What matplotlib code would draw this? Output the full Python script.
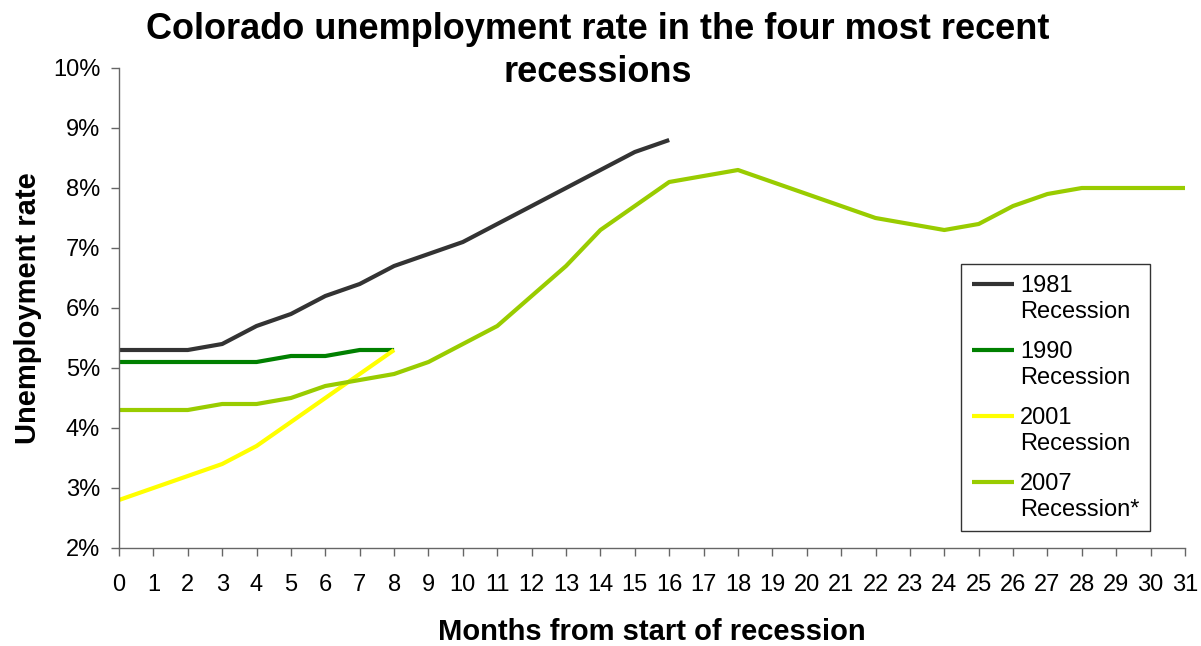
import matplotlib
matplotlib.use("Agg")
import matplotlib.pyplot as plt
from matplotlib.legend_handler import HandlerLine2D
from matplotlib.ticker import FuncFormatter

months = list(range(32))

rec_1981 = [5.3, 5.3, 5.3, 5.4, 5.7, 5.9, 6.2, 6.4, 6.7, 6.9, 7.1, 7.4, 7.7,
            8.0, 8.3, 8.6, 8.8]
rec_1990 = [5.1, 5.1, 5.1, 5.1, 5.1, 5.2, 5.2, 5.3, 5.3]
rec_2001 = [2.8, 3.0, 3.2, 3.4, 3.7, 4.1, 4.5, 4.9, 5.3]
rec_2007 = [4.3, 4.3, 4.3, 4.4, 4.4, 4.5, 4.7, 4.8, 4.9, 5.1, 5.4, 5.7, 6.2,
            6.7, 7.3, 7.7, 8.1, 8.2, 8.3, 8.1, 7.9, 7.7, 7.5, 7.4, 7.3, 7.4,
            7.7, 7.9, 8.0, 8.0, 8.0, 8.0]

series = [
    ("1981\nRecession", rec_1981, "#333333"),
    ("1990\nRecession", rec_1990, "#008000"),
    ("2001\nRecession", rec_2001, "#FFFF00"),
    ("2007\nRecession*", rec_2007, "#99CC00"),
]


class TopLineHandler(HandlerLine2D):
    # put the legend line next to the first text line, like Excel does
    def create_artists(self, legend, orig_handle, xdescent, ydescent,
                       width, height, fontsize, trans):
        arts = super().create_artists(legend, orig_handle, xdescent, ydescent,
                                      width, height, fontsize, trans)
        for a in arts:
            a.set_ydata([y + 0.62 * fontsize for y in a.get_ydata()])
        return arts


plt.rcParams["font.family"] = ["Liberation Sans", "DejaVu Sans"]

fig = plt.figure(figsize=(12.01, 6.46), dpi=100)
ax = fig.add_axes([119 / 1201, 1 - 548 / 646, (1185 - 119) / 1201,
                   (548 - 68) / 646])

lines = []
for label, vals, color in series:
    ln, = ax.plot(months[:len(vals)], vals, color=color, lw=3.0, label=label,
                  solid_capstyle="butt", solid_joinstyle="round")
    lines.append(ln)

ax.set_xlim(0, 31)
ax.set_ylim(2, 10)
ax.set_xticks(months)
ax.set_yticks(range(2, 11))
ax.yaxis.set_major_formatter(FuncFormatter(lambda v, _: f"{v:.0f}%"))
ax.tick_params(axis="both", labelsize=17, length=5.5, width=1.0,
               color="#666666", direction="out")
ax.tick_params(axis="x", pad=13)
ax.tick_params(axis="y", pad=8)
for side in ("top", "right"):
    ax.spines[side].set_visible(False)
for side in ("left", "bottom"):
    ax.spines[side].set_color("#666666")
    ax.spines[side].set_linewidth(1.0)

ax.set_xlabel("Months from start of recession", fontsize=21,
              fontweight="bold", labelpad=16)
ax.set_ylabel("Unemployment rate", fontsize=21, fontweight="bold",
              labelpad=8)

fig.text(0.498, 0.921,
         "Colorado unemployment rate in the four most recent\nrecessions",
         ha="center", va="center", fontsize=26, fontweight="bold",
         linespacing=1.33)

leg = ax.legend(handles=lines, loc="upper left",
                bbox_to_anchor=(961 / 1201, 1 - 264 / 646),
                bbox_transform=fig.transFigure, borderaxespad=0,
                fontsize=17, frameon=True, fancybox=False,
                edgecolor="black", handlelength=1.8, handletextpad=0.25,
                labelspacing=0.75, borderpad=0.45,
                handler_map={type(lines[0]): TopLineHandler()})
leg.get_frame().set_linewidth(1.0)
for t in leg.get_texts():
    t.set_linespacing(1.25)

fig.savefig("out.png", dpi=100, facecolor="white")
